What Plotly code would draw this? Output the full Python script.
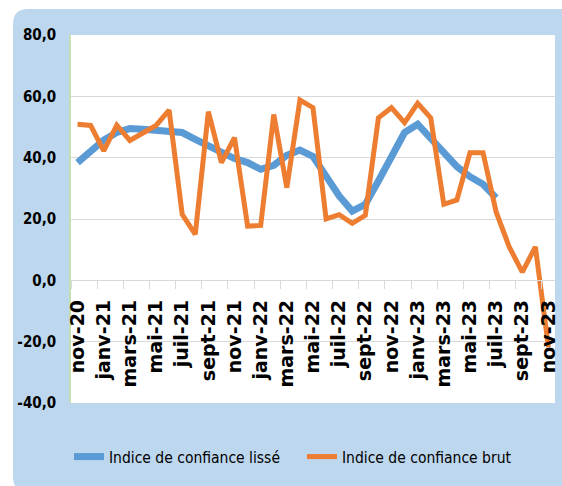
import plotly.graph_objects as go

months = ["nov-20", "déc-20", "janv-21", "févr-21", "mars-21", "avr-21", "mai-21", "juin-21",
          "juil-21", "août-21", "sept-21", "oct-21", "nov-21", "déc-21", "janv-22", "févr-22",
          "mars-22", "avr-22", "mai-22", "juin-22", "juil-22", "août-22", "sept-22", "oct-22",
          "nov-22", "déc-22", "janv-23", "févr-23", "mars-23", "avr-23", "mai-23", "juin-23",
          "juil-23", "août-23", "sept-23", "oct-23", "nov-23"]

indice_lisse = [38.4, 42.2, 45.7, 48.2, 49.5, 49.3, 49.0, 49.0, 48.2, 46.0, 43.8, 41.4, 39.7,
                38.4, 36.2, 37.5, 40.8, 42.5, 40.4, 34.0, 27.5, 22.6, 24.8, 32.4, 40.5, 48.2,
                50.9, 46.5, 41.6, 37.1, 33.8, 31.3, 26.9, None, None, None, None]

indice_brut = [50.9, 50.5, 42.2, 50.6, 45.6, 47.9, 50.5, 55.5, 21.5, 15.0, 55.0, 38.4, 46.5,
               17.7, 17.9, 54.1, 30.2, 58.8, 56.3, 20.0, 21.4, 18.6, 21.2, 53.0, 56.3, 51.4,
               57.7, 53.0, 24.8, 26.2, 41.6, 41.6, 22.3, 10.9, 2.7, 10.9, -21.8]

y_tickvals = [-40, -20, 0, 20, 40, 60, 80]
y_ticktext = ["-40,0", "-20,0", "0,0", "20,0", "40,0", "60,0", "80,0"]

W, H = 562, 486
L, R, T, B = 71, 555, 35, 403


def px(x, y):
    return (x - L) / (R - L), (B - y) / (B - T)


def rounded_rect(x0, y0, x1, y1, r):
    def p(x, y):
        fx, fy = px(x, y)
        return f"{fx:.5f},{fy:.5f}"
    d = (f"M {p(x0 + r, y0)} L {p(x1 - r, y0)} Q {p(x1, y0)} {p(x1, y0 + r)} "
         f"L {p(x1, y1 - r)} Q {p(x1, y1)} {p(x1 - r, y1)} L {p(x0 + r, y1)} "
         f"Q {p(x0, y1)} {p(x0, y1 - r)} L {p(x0, y0 + r)} Q {p(x0, y0)} {p(x0 + r, y0)} Z")
    return d


fig = go.Figure()
fig.add_trace(go.Scatter(x=months, y=indice_lisse, mode="lines", name="Indice de confiance lissé",
                         line=dict(color="#5b9bd5", width=7), connectgaps=False))
fig.add_trace(go.Scatter(x=months, y=indice_brut, mode="lines", name="Indice de confiance brut",
                         line=dict(color="#ed7d31", width=5)))

narrow = "DejaVu Sans Condensed, Liberation Sans Narrow, sans-serif"

fig.update_layout(
    width=W, height=H,
    margin=dict(l=L, r=W - R, t=T, b=H - B, pad=0, autoexpand=False),
    paper_bgcolor="white", plot_bgcolor="white",
    shapes=[
        dict(type="path", xref="paper", yref="paper", layer="below",
             path=rounded_rect(13, 9, 575, 492, 15), fillcolor="#bdd7ee", line=dict(width=0)),
        dict(type="rect", xref="paper", yref="paper", layer="below",
             x0=0, x1=1, y0=0, y1=1, fillcolor="white", line=dict(width=0)),
    ],
    showlegend=True,
    legend=dict(orientation="h", x=px(69, 0)[0], y=px(0, 457)[1], xanchor="left", yanchor="middle",
                font=dict(family=narrow, size=15.5, color="black"),
                entrywidth=188, entrywidthmode="pixels",
                bgcolor="rgba(0,0,0,0)", traceorder="normal"),
    xaxis=dict(type="category", anchor="free", position=1 / 3, showgrid=False,
               showline=True, linecolor="#d9d9d9", linewidth=1,
               ticks="outside", ticklen=8, tickcolor="#d9d9d9", tickwidth=1,
               tickson="boundaries", dtick=2, tick0=0, tickangle=-90,
               ticklabelstandoff=11,
               tickfont=dict(family="DejaVu Sans, sans-serif", size=19, color="black", weight="bold"),
               range=[-0.5, 36.5], automargin=False),
    yaxis=dict(range=[-40, 80], tickvals=y_tickvals, ticktext=y_ticktext,
               showgrid=True, gridcolor="#d9d9d9", gridwidth=1,
               zeroline=True, zerolinecolor="#d9d9d9", zerolinewidth=1,
               showline=True, linecolor="#c5e0b4", linewidth=1.5,
               ticks="", ticklabelstandoff=10,
               tickfont=dict(family=narrow, size=15, color="black", weight="bold"),
               automargin=False),
)

fig.write_html("out.html", config={"displayModeBar": False},
               post_script="document.body.style.margin='0';")
